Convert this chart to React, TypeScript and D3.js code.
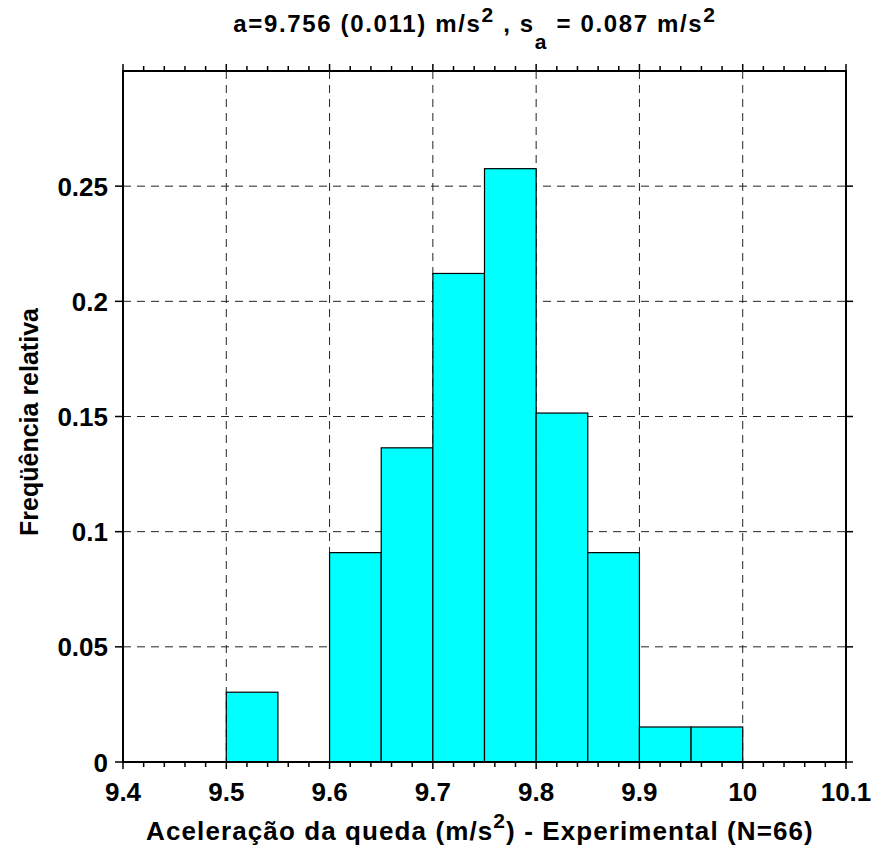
import React from "react";
import * as d3 from "d3";

const binStarts = [9.5, 9.6, 9.65, 9.7, 9.75, 9.8, 9.85, 9.9, 9.95];
const binWidth = 0.05;
const freqs = [0.0303, 0.0909, 0.1364, 0.2121, 0.2576, 0.1515, 0.0909, 0.0152, 0.0152];
const xTicks = [9.4, 9.5, 9.6, 9.7, 9.8, 9.9, 10, 10.1];
const yTicks = [0, 0.05, 0.1, 0.15, 0.2, 0.25];
const xMinor = d3.range(9.4, 10.1001, 0.02);

const W = 877, H = 851;
const L = 123, R = 846, T = 71, B = 762;
const FONT = "'Liberation Sans', Arial, sans-serif";

export default function App() {
  const x = d3.scaleLinear().domain([9.4, 10.1]).range([L, R]);
  const y = d3.scaleLinear().domain([0, 0.3]).range([B, T]);
  const fmt = (v: number) => (v === 0 ? "0" : String(+v.toFixed(2)));
  return (
    <svg width={W} height={H} style={{ position: "absolute", left: 0, top: 0, background: "#fff" }}>
      <rect x={0} y={0} width={W} height={H} fill="#fff" />
      {/* grid */}
      {xTicks.slice(1, -1).map((t) => (
        <line key={"gx" + t} x1={x(t)} x2={x(t)} y1={T} y2={B} stroke="#222" strokeWidth={1} strokeDasharray="8,6" />
      ))}
      {yTicks.slice(1).map((t) => (
        <line key={"gy" + t} x1={L} x2={R} y1={y(t)} y2={y(t)} stroke="#222" strokeWidth={1} strokeDasharray="8,6" />
      ))}
      {/* bars */}
      {binStarts.map((s, i) => (
        <rect
          key={"b" + i}
          x={x(s)}
          y={y(freqs[i])}
          width={x(s + binWidth) - x(s)}
          height={y(0) - y(freqs[i])}
          fill="#00FFFF"
          stroke="#000"
          strokeWidth={1.2}
        />
      ))}
      {/* frame */}
      <rect x={L} y={T} width={R - L} height={B - T} fill="none" stroke="#000" strokeWidth={2} />
      {/* x ticks */}
      {xMinor.map((t, i) => {
        const major = i % 5 === 0;
        const len = major ? 7 : 5;
        return (
          <g key={"xt" + i}>
            <line x1={x(t)} x2={x(t)} y1={B} y2={B + len} stroke="#000" strokeWidth={1.5} />
            <line x1={x(t)} x2={x(t)} y1={T} y2={T - len} stroke="#000" strokeWidth={1.5} />
          </g>
        );
      })}
      {/* y ticks */}
      {yTicks.map((t) => (
        <g key={"yt" + t}>
          <line x1={L - 8} x2={L} y1={y(t)} y2={y(t)} stroke="#000" strokeWidth={1.5} />
          <line x1={R} x2={R + 7} y1={y(t)} y2={y(t)} stroke="#000" strokeWidth={1.5} />
        </g>
      ))}
      {/* x tick labels */}
      {xTicks.map((t) => (
        <text key={"xl" + t} x={x(t)} y={801} textAnchor="middle" fontFamily={FONT} fontWeight="bold" fontSize={26}>
          {fmt(t)}
        </text>
      ))}
      {/* y tick labels */}
      {yTicks.map((t) => (
        <text key={"yl" + t} x={108} y={y(t) + 9.5} textAnchor="end" fontFamily={FONT} fontWeight="bold" fontSize={26}>
          {fmt(t)}
        </text>
      ))}
      {/* title */}
      <text x={475} y={32} textAnchor="middle" fontFamily={FONT} fontWeight="bold" fontSize={24} letterSpacing={1.65}>
        <tspan>a=9.756 (0.011) m/s</tspan>
        <tspan dy={-10} fontSize={21}>2</tspan>
        <tspan dy={10}> , s</tspan>
        <tspan dy={17} fontSize={21}>a</tspan>
        <tspan dy={-17}> = 0.087 m/s</tspan>
        <tspan dy={-10} fontSize={21}>2</tspan>
      </text>
      {/* x axis title */}
      <text x={480} y={840} textAnchor="middle" fontFamily={FONT} fontWeight="bold" fontSize={26} letterSpacing={1.1}>
        <tspan>Aceleração da queda (m/s</tspan>
        <tspan dy={-12} fontSize={21}>2</tspan>
        <tspan dy={12}>) - Experimental (N=66)</tspan>
      </text>
      {/* y axis title */}
      <text
        transform={`translate(38, 422) rotate(-90)`}
        textAnchor="middle"
        fontFamily={FONT}
        fontWeight="bold"
        fontSize={25}
      >
        Freqüência relativa
      </text>
    </svg>
  );
}
